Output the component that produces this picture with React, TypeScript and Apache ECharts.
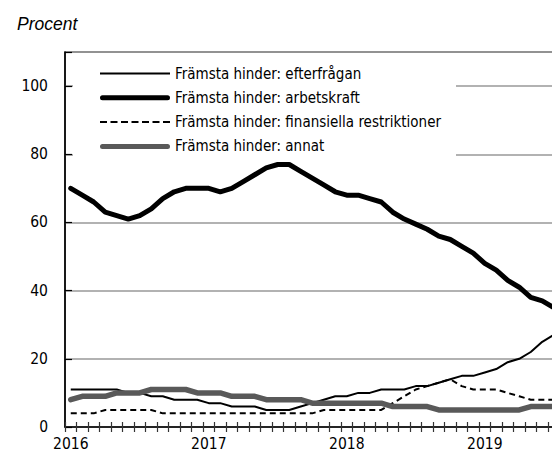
import React, { useEffect, useRef } from "react";
import * as echarts from "echarts";

const months: string[] = [];
for (let y = 2016; y <= 2019; y++) {
  for (let m = 1; m <= 12; m++) {
    if (y === 2019 && m > 8) break;
    months.push(`${y}-${m < 10 ? "0" + m : m}`);
  }
}

const efterfragan = [
  11, 11, 11, 11, 11, 10, 10, 9, 9, 8, 8, 8,
  7, 7, 6, 6, 6, 5, 5, 5, 6, 7, 8, 9,
  9, 10, 10, 11, 11, 11, 12, 12, 13, 14, 15, 15,
  16, 17, 19, 20, 22, 25, 27, 29,
];
const arbetskraft = [
  70, 68, 66, 63, 62, 61, 62, 64, 67, 69, 70, 70,
  70, 69, 70, 72, 74, 76, 77, 77, 75, 73, 71, 69,
  68, 68, 67, 66, 63, 61, 59.5, 58, 56, 55, 53, 51,
  48, 46, 43, 41, 38, 37, 35, 33,
];
const finansiella = [
  4, 4, 4, 5, 5, 5, 5, 5, 4, 4, 4, 4,
  4, 4, 4, 4, 4, 4, 4, 4, 4, 4, 5, 5,
  5, 5, 5, 5, 7, 9, 11, 12, 13, 14, 12, 11,
  11, 11, 10, 9, 8, 8, 8, 7,
];
const annat = [
  8, 9, 9, 9, 10, 10, 10, 11, 11, 11, 11, 10,
  10, 10, 9, 9, 9, 8, 8, 8, 8, 7, 7, 7,
  7, 7, 7, 7, 6, 6, 6, 6, 5, 5, 5, 5,
  5, 5, 5, 5, 6, 6, 6, 6,
];
const seriesNames = [
  "Främsta hinder: efterfrågan",
  "Främsta hinder: arbetskraft",
  "Främsta hinder: finansiella restriktioner",
  "Främsta hinder: annat",
];
const yTicks = [0, 20, 40, 60, 80, 100];

const NARROW = "'Liberation Sans Narrow', 'DejaVu Sans Condensed', 'Arial Narrow', sans-serif";

const ICON_THIN = "path://M0,0H70V2H0Z";
const ICON_THICK = "path://M2.5,0H67.5A2.5,2.5 0 0 1 67.5,5H2.5A2.5,2.5 0 0 1 2.5,0Z";
const ICON_DASH =
  "path://" +
  [0, 1, 2, 3, 4, 5, 6].map((i) => `M${i * 10.5},0h7v2h-7Z`).join("");

export default function App() {
  const ref = useRef<HTMLDivElement>(null);
  useEffect(() => {
    if (!ref.current) return;
    const chart = echarts.init(ref.current, undefined, { renderer: "svg" });
    const xLabel = (v: string) => v.slice(0, 4);
    chart.setOption({
      animation: false,
      backgroundColor: "#fff",
      title: {
        text: "Procent",
        left: 12,
        top: 10,
        textStyle: {
          fontFamily: "'Liberation Sans', Arial, sans-serif",
          fontStyle: "italic",
          fontWeight: "normal",
          fontSize: 17.5,
          color: "#000",
        },
      },
      graphic: [
        {
          type: "rect",
          z: 3,
          shape: { x: 73, y: 57, width: 383, height: 101 },
          style: { fill: "#fff" },
          silent: true,
        },
      ],
      grid: { left: 65, top: 52, width: 506, height: 375, show: true, borderColor: "#000", borderWidth: 1.2, backgroundColor: "transparent" },
      legend: {
        orient: "vertical",
        left: 74,
        top: 59,
        padding: [7, 10, 7, 26],
        itemWidth: 70,
        itemHeight: 14,
        itemGap: 9.3,
        itemStyle: { borderWidth: 0 },
        textStyle: { fontFamily: NARROW, fontSize: 15, lineHeight: 14, color: "#000", padding: [0, 0, 0, 0] },
        data: [
          { name: seriesNames[0], icon: ICON_THIN },
          { name: seriesNames[1], icon: ICON_THICK },
          { name: seriesNames[2], icon: ICON_DASH },
          { name: seriesNames[3], icon: ICON_THICK },
        ],
      },
      xAxis: [
        {
          type: "category",
          position: "bottom",
          data: months,
          boundaryGap: true,
          axisLine: { lineStyle: { color: "#000", width: 1.5 } },
          axisTick: { show: true, inside: false, length: 5, interval: 0, lineStyle: { color: "#333", width: 1.2 } },
          axisLabel: { interval: 11, margin: 9, formatter: xLabel, fontFamily: NARROW, fontSize: 15.5, color: "#000" },
          splitLine: { show: false },
        },
        {
          type: "category",
          position: "bottom",
          data: months,
          boundaryGap: true,
          axisLine: { show: false },
          axisTick: { show: true, inside: true, length: 5, interval: 0, lineStyle: { color: "#333", width: 1.2 } },
          axisLabel: { show: false },
          splitLine: { show: false },
        },
      ],
      yAxis: {
        type: "value",
        min: yTicks[0],
        max: 110,
        interval: 20,
        axisLine: { show: true, lineStyle: { color: "#000", width: 1.5 } },
        axisTick: { show: true, inside: true, length: 7, lineStyle: { color: "#000", width: 1.2 } },
        axisLabel: {
          margin: 17,
          fontFamily: NARROW,
          fontSize: 15.5,
          color: "#000",
          formatter: (v: number) => (yTicks.includes(v) ? String(v) : ""),
        },
        splitLine: { show: true, lineStyle: { color: "#999", width: 1.5 } },
      },
      series: [
        {
          name: seriesNames[0],
          type: "line",
          data: efterfragan,
          symbol: "none",
          lineStyle: { color: "#000", width: 2 },
          itemStyle: { color: "#000" },
        },
        {
          name: seriesNames[1],
          type: "line",
          data: arbetskraft,
          symbol: "none",
          lineStyle: { color: "#000", width: 5, cap: "round", join: "round" },
          itemStyle: { color: "#000" },
        },
        {
          name: seriesNames[2],
          type: "line",
          data: finansiella,
          symbol: "none",
          lineStyle: { color: "#000", width: 2, type: [6, 4] },
          itemStyle: { color: "#000" },
        },
        {
          name: seriesNames[3],
          type: "line",
          data: annat,
          symbol: "none",
          lineStyle: { color: "#595959", width: 5.5, cap: "round", join: "round" },
          itemStyle: { color: "#595959" },
        },
      ],
    });
    return () => chart.dispose();
  }, []);
  return (
    <div
      ref={ref}
      style={{ position: "fixed", left: 0, top: 0, width: 580, height: 457, background: "#fff" }}
    />
  );
}
